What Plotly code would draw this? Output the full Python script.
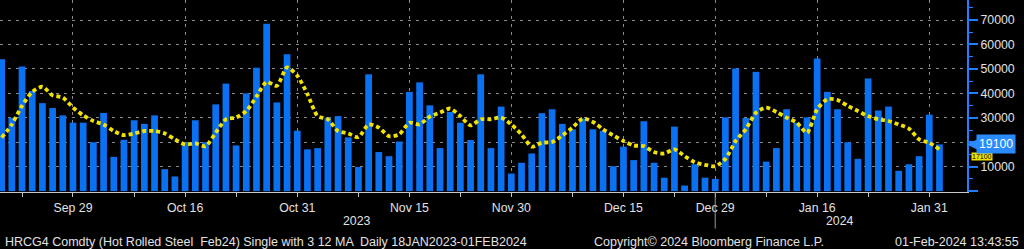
import plotly.graph_objects as go

# ---- data ----
dates = [
    "2023-09-20", "2023-09-21", "2023-09-22", "2023-09-25", "2023-09-26", "2023-09-27", "2023-09-28", "2023-09-29",
    "2023-10-02", "2023-10-03", "2023-10-04", "2023-10-05", "2023-10-06", "2023-10-09", "2023-10-10", "2023-10-11",
    "2023-10-12", "2023-10-13", "2023-10-16", "2023-10-17", "2023-10-18", "2023-10-19", "2023-10-20", "2023-10-23",
    "2023-10-24", "2023-10-25", "2023-10-26", "2023-10-27", "2023-10-30", "2023-10-31",
    "2023-11-01", "2023-11-02", "2023-11-03", "2023-11-06", "2023-11-07", "2023-11-08", "2023-11-09", "2023-11-10",
    "2023-11-13", "2023-11-14", "2023-11-15", "2023-11-16", "2023-11-17", "2023-11-20", "2023-11-21", "2023-11-22",
    "2023-11-24", "2023-11-27", "2023-11-28", "2023-11-29", "2023-11-30",
    "2023-12-01", "2023-12-04", "2023-12-05", "2023-12-06", "2023-12-07", "2023-12-08", "2023-12-11", "2023-12-12",
    "2023-12-13", "2023-12-14", "2023-12-15", "2023-12-18", "2023-12-19", "2023-12-20", "2023-12-21", "2023-12-22",
    "2023-12-26", "2023-12-27", "2023-12-28", "2023-12-29",
    "2024-01-02", "2024-01-03", "2024-01-04", "2024-01-05", "2024-01-08", "2024-01-09", "2024-01-10", "2024-01-11",
    "2024-01-12", "2024-01-16", "2024-01-17", "2024-01-18", "2024-01-19", "2024-01-22", "2024-01-23", "2024-01-24",
    "2024-01-25", "2024-01-26", "2024-01-29", "2024-01-30", "2024-01-31", "2024-02-01",
]

volume = [
    54000, 30000, 51000, 41000, 36000, 34000, 31000, 28000, 28000, 20000,
    32000, 14000, 21000, 29000, 27500, 31000, 9000, 6000, 20000, 29000,
    20000, 35500, 44000, 18700, 40000, 50500, 68500, 36300, 56000, 24700,
    17100, 17600, 30100, 30700, 22000, 9900, 47800, 16000, 14300, 20300,
    40600, 44500, 35100, 17600, 32400, 28000, 20900, 47800, 17600, 34600,
    7200, 11600, 15400, 31900, 33500, 27500, 25300, 29700, 25300, 24700,
    10200, 18200, 12700, 28600, 11600, 5500, 26400, 2300, 11000, 5500,
    5000, 30200, 50200, 29900, 48800, 12100, 17600, 33500, 28000, 30200,
    54300, 40600, 33500, 20000, 13200, 46100, 33000, 34600, 8300, 11000,
    14300, 31300, 19100,
]

ma = [
    21900, 27300, 34900, 40600, 42700, 39200, 38300, 34200, 31000, 28700,
    27300, 24600, 22900, 23600, 24600, 24600, 23600, 21200, 19100, 19500,
    18400, 23900, 29400, 30100, 32800, 38700, 44700, 43100, 50600, 47200,
    39700, 30700, 29400, 24600, 23600, 22100, 27300, 26000, 22500, 23200,
    28000, 27300, 30500, 32100, 33800, 30700, 26900, 29400, 29400, 30100,
    27300, 23200, 18200, 19800, 20100, 22800, 26000, 29700, 28300, 25300,
    22800, 20500, 18700, 18400, 16000, 15400, 17100, 14300, 11800, 10800,
    10200, 13200, 20500, 25300, 32100, 34200, 32400, 30100, 28000, 23900,
    33500, 37600, 37300, 34900, 32800, 30700, 29400, 28700, 27300, 25600,
    21200, 19800, 17100,
]

major_ticks = ["2023-09-29", "2023-10-16", "2023-10-31", "2023-11-15", "2023-11-30",
               "2023-12-15", "2023-12-29", "2024-01-16", "2024-01-31"]
major_labels = ["Sep 29", "Oct 16", "Oct 31", "Nov 15", "Nov 30",
                "Dec 15", "Dec 29", "Jan 16", "Jan 31"]
minor_ticks = ["2023-09-22", "2023-10-09", "2023-10-23", "2023-11-08", "2023-11-22",
               "2023-12-08", "2023-12-22", "2024-01-08", "2024-01-23"]
year_boundary = "2023-12-29"

y_ticks = [0, 10000, 20000, 30000, 40000, 50000, 60000, 70000]
y_labels = ["", "10000", "20000", "30000", "40000", "50000", "60000", "70000"]

last_volume = volume[-1]
last_ma = ma[-1]

title_text = "HRCG4 Comdty (Hot Rolled Steel  Feb24) Single with 3 12 MA  Daily 18JAN2023-01FEB2024"
copyright_text = "Copyright\u00a9 2024 Bloomberg Finance L.P."
stamp_text = "01-Feb-2024 13:43:55"

# ---- styles ----
BLUE = "#0a72f2"
AXIS_BLUE = "#1f7fff"
YELLOW = "#f2e200"
TXT = "#e2e2e2"
GRID = "#8a8a8a"
FONT = "Liberation Sans"

fig = go.Figure()

fig.add_trace(go.Bar(
    x=dates, y=volume, marker=dict(color=BLUE, line=dict(width=0)),
    showlegend=False, hoverinfo="skip",
))
fig.add_trace(go.Scatter(
    x=dates, y=ma, mode="lines",
    line=dict(color=YELLOW, width=3.8, dash="4px,3px", shape="spline", smoothing=0.7),
    showlegend=False, hoverinfo="skip",
))
# helper trace so the overlaid minor-tick axis is drawn
fig.add_trace(go.Scatter(
    x=dates, y=[None] * len(dates), xaxis="x2", mode="lines",
    showlegend=False, hoverinfo="skip",
))

fig.update_layout(
    width=1024, height=249,
    margin=dict(l=0, r=57, t=0, b=57),
    paper_bgcolor="black", plot_bgcolor="black",
    bargap=0.34,
    font=dict(family=FONT, size=12, color=TXT),
    xaxis=dict(
        type="category", categoryorder="array", categoryarray=dates,
        range=[-0.16, 94.7],
        tickmode="array", tickvals=major_ticks, ticktext=major_labels,
        showgrid=True, gridcolor=GRID, griddash="3px,5px", gridwidth=1,
        ticks="outside", ticklen=4, tickcolor="#c8c8c8", tickwidth=1,
        showline=True, linecolor="#c8c8c8", linewidth=1,
        tickfont=dict(family=FONT, size=12.3, color=TXT),
        zeroline=False, fixedrange=True,
    ),
    xaxis2=dict(
        type="category", categoryorder="array", categoryarray=dates,
        overlaying="x", matches="x", anchor="y", side="bottom",
        tickmode="array", tickvals=minor_ticks, ticktext=[""] * len(minor_ticks),
        showgrid=False, showticklabels=False,
        ticks="outside", ticklen=4, tickcolor="#c8c8c8", tickwidth=1,
        showline=False, zeroline=False,
    ),
    yaxis=dict(
        side="right", range=[-350, 78200],
        tickmode="array", tickvals=y_ticks, ticktext=y_labels,
        showgrid=True, gridcolor=GRID, griddash="3px,5px", gridwidth=1,
        ticks="outside", ticklen=9, tickwidth=2, tickcolor=AXIS_BLUE,
        showline=True, linecolor=AXIS_BLUE, linewidth=2,
        tickfont=dict(family=FONT, size=12.3, color=TXT),
        minor=dict(dtick=5000, tick0=0, ticks="outside", ticklen=4,
                   tickcolor=AXIS_BLUE, tickwidth=1, showgrid=False),
        zeroline=False, fixedrange=True,
    ),
)

# year boundary marker
fig.add_shape(type="line", xref="x", yref="paper",
              x0=year_boundary, x1=year_boundary, y0=0, y1=-0.19,
              line=dict(color="#9a9a9a", width=1))

BOTTOM_FONT = dict(family=FONT, size=12.5, color=TXT)
annotations = [
    dict(text="2023", xref="paper", yref="paper", x=0.369, y=-0.151,
         xanchor="center", yanchor="middle", showarrow=False,
         font=dict(family=FONT, size=12.3, color=TXT)),
    dict(text="2024", xref="paper", yref="paper", x=0.869, y=-0.151,
         xanchor="center", yanchor="middle", showarrow=False,
         font=dict(family=FONT, size=12.3, color=TXT)),
    dict(text=title_text, xref="paper", yref="paper", x=0.003, y=-0.259,
         xanchor="left", yanchor="middle", showarrow=False, font=BOTTOM_FONT),
    dict(text=copyright_text, xref="paper", yref="paper", x=0.612, y=-0.259,
         xanchor="left", yanchor="middle", showarrow=False, font=BOTTOM_FONT),
    dict(text=stamp_text, xref="paper", yref="paper", x=1.0558, y=-0.259,
         xanchor="right", yanchor="middle", showarrow=False, font=BOTTOM_FONT),
    # last MA value label (sits just under the volume label)
    dict(text=f"{last_ma}", xref="paper", yref="y", x=1.0, y=last_ma,
         xanchor="left", yanchor="middle", xshift=4, yshift=-7.5, showarrow=False,
         bgcolor=YELLOW, borderpad=0,
         font=dict(family=FONT, size=7, color="black")),
    # last volume label
    dict(text=f"{last_volume}", xref="paper", yref="y", x=1.0, y=last_volume,
         showarrow=True, ax=29, ay=0, arrowhead=2, arrowsize=1, arrowwidth=2,
         arrowcolor="#2a8bff", standoff=0,
         bgcolor="#2a8bff", borderpad=2,
         font=dict(family=FONT, size=12.3, color="white")),
]
fig.update_layout(annotations=annotations)

fig.write_html("out.html")
